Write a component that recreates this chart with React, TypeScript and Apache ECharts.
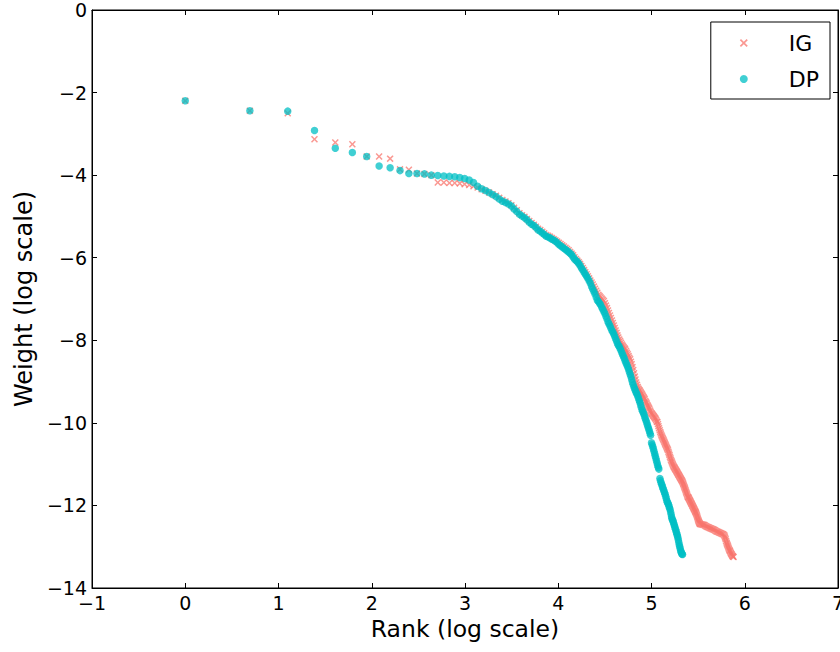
import React, { useEffect, useRef } from "react";
import * as echarts from "echarts";

// x = log(rank), y = log(weight)
const igPoints: number[][] = [
  [0, -2.2], [0.693, -2.44], [1.099, -2.5], [1.386, -3.13], [1.609, -3.21], [1.792, -3.25], [1.946, -3.55],
  [2.079, -3.55], [2.197, -3.6], [2.303, -3.86], [2.398, -3.87], [2.485, -3.96], [2.565, -3.97], [2.639, -4.0],
  [2.708, -4.18], [2.773, -4.18], [2.833, -4.19], [2.89, -4.19], [2.944, -4.2], [2.996, -4.22], [3.045, -4.24],
  [3.091, -4.27], [3.135, -4.3], [3.178, -4.34], [3.219, -4.38], [3.258, -4.42], [3.296, -4.46], [3.332, -4.5],
  [3.367, -4.55], [3.401, -4.6], [3.434, -4.64], [3.466, -4.68], [3.497, -4.73], [3.526, -4.79], [3.555, -4.85],
  [3.584, -4.92], [3.611, -4.97], [3.638, -5.01], [3.664, -5.06], [3.689, -5.11], [3.714, -5.16], [3.738, -5.2],
  [3.761, -5.25], [3.784, -5.3], [3.807, -5.33], [3.829, -5.37], [3.85, -5.41], [3.871, -5.45], [3.892, -5.47],
  [3.912, -5.49], [3.932, -5.52], [3.951, -5.55], [3.97, -5.58], [3.989, -5.61], [4.007, -5.64], [4.025, -5.67],
  [4.043, -5.7], [4.06, -5.73], [4.078, -5.76], [4.094, -5.79], [4.111, -5.82], [4.127, -5.86], [4.143, -5.9],
  [4.159, -5.94], [4.174, -5.99], [4.19, -6.03], [4.205, -6.07], [4.22, -6.11], [4.234, -6.15], [4.248, -6.2],
  [4.263, -6.25], [4.277, -6.3], [4.29, -6.35], [4.304, -6.4], [4.317, -6.45], [4.331, -6.5], [4.344, -6.55],
  [4.357, -6.6], [4.369, -6.65], [4.382, -6.7], [4.394, -6.75], [4.407, -6.8], [4.419, -6.85], [4.431, -6.9],
  [4.443, -6.93], [4.454, -6.96], [4.466, -6.99], [4.477, -7.02], [4.489, -7.05], [4.5, -7.1], [4.511, -7.16],
  [4.522, -7.22], [4.533, -7.28], [4.543, -7.34], [4.554, -7.4], [4.564, -7.46], [4.575, -7.52], [4.585, -7.58],
  [4.595, -7.64], [4.605, -7.7], [4.615, -7.76], [4.625, -7.82], [4.635, -7.88], [4.644, -7.93], [4.654, -7.98],
  [4.663, -8.02], [4.673, -8.06], [4.682, -8.1], [4.691, -8.13], [4.7, -8.16], [4.71, -8.19], [4.718, -8.22],
  [4.727, -8.26], [4.736, -8.3], [4.745, -8.34], [4.754, -8.38], [4.762, -8.42], [4.771, -8.46], [4.779, -8.52],
  [4.787, -8.58], [4.796, -8.65], [4.804, -8.72], [4.812, -8.8], [4.82, -8.88], [4.828, -8.95], [4.836, -9.02],
  [4.844, -9.08], [4.852, -9.13], [4.86, -9.17], [4.868, -9.2], [4.875, -9.22], [4.883, -9.25], [4.89, -9.28],
  [4.898, -9.31], [4.905, -9.34], [4.913, -9.37], [4.92, -9.4], [4.927, -9.43], [4.934, -9.47], [4.942, -9.5],
  [4.949, -9.53], [4.956, -9.57], [4.963, -9.6], [4.97, -9.63], [4.977, -9.66], [4.984, -9.7], [4.99, -9.73],
  [4.997, -9.76], [5.004, -9.78], [5.011, -9.8], [5.017, -9.82], [5.024, -9.84], [5.03, -9.86], [5.037, -9.88],
  [5.043, -9.9], [5.05, -9.93], [5.056, -9.97], [5.063, -9.98], [5.069, -10.03], [5.075, -10.08], [5.081, -10.13],
  [5.088, -10.18], [5.094, -10.22], [5.1, -10.26], [5.106, -10.3], [5.112, -10.33], [5.118, -10.36], [5.124, -10.39],
  [5.13, -10.42], [5.136, -10.45], [5.142, -10.48], [5.147, -10.51], [5.153, -10.54], [5.159, -10.57], [5.165, -10.6],
  [5.17, -10.63], [5.176, -10.66], [5.182, -10.7], [5.187, -10.74], [5.193, -10.78], [5.198, -10.82], [5.204, -10.86],
  [5.209, -10.9], [5.215, -10.93], [5.22, -10.96], [5.226, -10.99], [5.231, -11.02], [5.236, -11.05], [5.242, -11.07],
  [5.247, -11.09], [5.252, -11.11], [5.257, -11.13], [5.263, -11.15], [5.268, -11.17], [5.273, -11.19], [5.278, -11.21],
  [5.283, -11.23], [5.288, -11.25], [5.293, -11.27], [5.298, -11.29], [5.303, -11.31], [5.308, -11.33], [5.313, -11.35],
  [5.318, -11.37], [5.323, -11.39], [5.328, -11.41], [5.333, -11.43], [5.338, -11.46], [5.342, -11.49], [5.347, -11.52],
  [5.352, -11.55], [5.357, -11.58], [5.361, -11.61], [5.366, -11.64], [5.371, -11.67], [5.375, -11.7], [5.38, -11.73],
  [5.384, -11.76], [5.389, -11.79], [5.394, -11.8], [5.398, -11.82], [5.403, -11.84], [5.407, -11.86], [5.412, -11.88],
  [5.416, -11.9], [5.42, -11.92], [5.425, -11.94], [5.429, -11.96], [5.434, -11.98], [5.438, -12.0], [5.442, -12.02],
  [5.447, -12.04], [5.451, -12.06], [5.455, -12.08], [5.46, -12.1], [5.464, -12.12], [5.468, -12.14], [5.472, -12.16],
  [5.476, -12.18], [5.48, -12.2], [5.485, -12.23], [5.489, -12.26], [5.493, -12.29], [5.497, -12.32], [5.501, -12.35],
  [5.505, -12.38], [5.509, -12.4], [5.513, -12.42], [5.517, -12.44], [5.521, -12.45], [5.53, -12.455], [5.54, -12.46],
  [5.55, -12.465], [5.56, -12.47], [5.57, -12.48], [5.58, -12.5], [5.59, -12.51], [5.6, -12.52], [5.61, -12.53],
  [5.62, -12.54], [5.63, -12.55], [5.64, -12.56], [5.65, -12.57], [5.66, -12.58], [5.67, -12.59], [5.68, -12.6],
  [5.69, -12.62], [5.7, -12.63], [5.71, -12.64], [5.72, -12.65], [5.73, -12.66], [5.74, -12.67], [5.75, -12.68],
  [5.76, -12.69], [5.77, -12.7], [5.78, -12.72], [5.785, -12.75], [5.79, -12.78], [5.795, -12.82], [5.8, -12.86],
  [5.805, -12.9], [5.81, -12.93], [5.815, -12.96], [5.82, -12.99], [5.825, -13.02], [5.83, -13.05], [5.835, -13.08],
  [5.84, -13.1], [5.845, -13.12], [5.85, -13.15], [5.855, -13.17], [5.86, -13.19], [5.865, -13.21], [5.87, -13.23],
  [5.875, -13.24], [5.88, -13.25],
];

const dpPoints: number[][] = [
  [0, -2.2], [0.693, -2.44], [1.099, -2.45], [1.386, -2.92], [1.609, -3.35], [1.792, -3.45], [1.946, -3.55],
  [2.079, -3.78], [2.197, -3.82], [2.303, -3.89], [2.398, -3.96], [2.485, -3.96], [2.565, -3.97], [2.639, -4.0],
  [2.708, -4.01], [2.773, -4.02], [2.833, -4.03], [2.89, -4.04], [2.944, -4.06], [2.996, -4.08], [3.045, -4.12],
  [3.091, -4.18], [3.135, -4.27], [3.178, -4.33], [3.219, -4.37], [3.258, -4.42], [3.296, -4.47], [3.332, -4.52],
  [3.367, -4.58], [3.401, -4.63], [3.434, -4.66], [3.466, -4.7], [3.497, -4.75], [3.526, -4.82], [3.555, -4.88],
  [3.584, -4.95], [3.611, -4.99], [3.638, -5.03], [3.664, -5.08], [3.689, -5.14], [3.714, -5.19], [3.738, -5.22],
  [3.761, -5.27], [3.784, -5.33], [3.807, -5.36], [3.829, -5.4], [3.85, -5.44], [3.871, -5.48], [3.892, -5.5],
  [3.912, -5.52], [3.932, -5.55], [3.951, -5.57], [3.97, -5.6], [3.989, -5.64], [4.007, -5.68], [4.025, -5.71],
  [4.043, -5.74], [4.06, -5.77], [4.078, -5.8], [4.094, -5.83], [4.111, -5.86], [4.127, -5.89], [4.143, -5.93],
  [4.159, -5.98], [4.174, -6.03], [4.19, -6.07], [4.205, -6.1], [4.22, -6.14], [4.234, -6.19], [4.248, -6.25],
  [4.263, -6.3], [4.277, -6.35], [4.29, -6.4], [4.304, -6.45], [4.317, -6.5], [4.331, -6.56], [4.344, -6.62],
  [4.357, -6.7], [4.369, -6.76], [4.382, -6.82], [4.394, -6.88], [4.407, -6.96], [4.419, -7.03], [4.431, -7.06],
  [4.443, -7.1], [4.454, -7.14], [4.466, -7.2], [4.477, -7.25], [4.489, -7.3], [4.5, -7.35], [4.511, -7.42],
  [4.522, -7.48], [4.533, -7.55], [4.543, -7.6], [4.554, -7.65], [4.564, -7.7], [4.575, -7.76], [4.585, -7.8],
  [4.595, -7.85], [4.605, -7.9], [4.615, -7.96], [4.625, -8.02], [4.635, -8.08], [4.644, -8.12], [4.654, -8.15],
  [4.663, -8.2], [4.673, -8.25], [4.682, -8.3], [4.691, -8.35], [4.7, -8.4], [4.71, -8.45], [4.718, -8.5],
  [4.727, -8.55], [4.736, -8.6], [4.745, -8.65], [4.754, -8.7], [4.762, -8.76], [4.771, -8.82], [4.779, -8.88],
  [4.787, -8.95], [4.796, -9.02], [4.804, -9.08], [4.812, -9.13], [4.82, -9.18], [4.828, -9.22], [4.836, -9.27],
  [4.844, -9.3], [4.852, -9.35], [4.86, -9.4], [4.868, -9.45], [4.875, -9.5], [4.883, -9.56], [4.89, -9.62],
  [4.898, -9.68], [4.905, -9.72], [4.913, -9.76], [4.92, -9.8], [4.927, -9.85], [4.934, -9.9], [4.942, -9.95],
  [4.949, -10.0], [4.956, -10.05], [4.963, -10.1], [4.97, -10.15], [4.977, -10.2], [4.984, -10.25], [4.99, -10.3],
  [5.0, -10.48], [5.007, -10.53], [5.014, -10.58], [5.02, -10.63], [5.027, -10.69], [5.034, -10.75], [5.04, -10.8],
  [5.047, -10.86], [5.053, -10.92], [5.06, -10.97], [5.066, -11.03], [5.073, -11.08], [5.079, -11.12],
  [5.09, -11.35], [5.096, -11.4], [5.103, -11.45], [5.109, -11.49], [5.115, -11.53], [5.121, -11.57], [5.127, -11.61],
  [5.133, -11.65], [5.14, -11.69], [5.146, -11.73], [5.152, -11.78], [5.158, -11.83], [5.164, -11.88], [5.17, -11.92],
  [5.176, -11.95], [5.182, -11.98], [5.188, -12.02], [5.193, -12.06], [5.199, -12.1], [5.205, -12.16], [5.211, -12.22],
  [5.215, -12.28], [5.22, -12.32], [5.226, -12.35], [5.231, -12.38], [5.236, -12.42], [5.242, -12.46], [5.247, -12.5],
  [5.252, -12.54], [5.258, -12.58], [5.263, -12.62], [5.268, -12.66], [5.273, -12.7], [5.278, -12.74], [5.283, -12.78],
  [5.288, -12.84], [5.293, -12.9], [5.298, -12.96], [5.303, -13.0], [5.308, -13.05], [5.313, -13.1], [5.318, -13.13],
  [5.323, -13.16], [5.328, -13.18], [5.333, -13.19],
];

const seriesNames = ["IG", "DP"];
const xRange = [-1, 7];
const yRange = [-14, 0];

const crossPath =
  "path://M0,1.5L1.5,0L5,3.5L8.5,0L10,1.5L6.5,5L10,8.5L8.5,10L5,6.5L1.5,10L0,8.5L3.5,5Z";

const fmt = (v: number) => (v < 0 ? "\u2212" + Math.abs(v) : String(v));
const FONT = "DejaVu Sans";

export default function App() {
  const ref = useRef<HTMLDivElement>(null);
  useEffect(() => {
    if (!ref.current) return;
    const chart = echarts.init(ref.current, null, { renderer: "svg" });
    const axisCommon = {
      type: "value" as const,
      axisLine: { show: true, onZero: false, lineStyle: { color: "#000", width: 1 } },
      axisTick: { show: true, inside: true, length: 5, lineStyle: { color: "#000", width: 1 } },
      splitLine: { show: false },
    };
    chart.setOption({
      animation: false,
      backgroundColor: "#fff",
      textStyle: { fontFamily: FONT },
      grid: {
        left: 92,
        right: 2,
        top: 10,
        bottom: 64,
        show: true,
        borderColor: "#000",
        borderWidth: 1,
        containLabel: false,
        outerBoundsMode: "none",
      },
      xAxis: [
        {
          ...axisCommon,
          min: xRange[0],
          max: xRange[1],
          interval: 1,
          name: "Rank (log scale)",
          nameLocation: "middle",
          nameGap: 29,
          nameTextStyle: { fontSize: 23.5, color: "#000", fontFamily: FONT },
          axisLabel: { fontSize: 19, color: "#000", margin: 5, formatter: fmt, fontFamily: FONT },
        },
        {
          ...axisCommon,
          position: "top",
          min: xRange[0],
          max: xRange[1],
          interval: 1,
          axisLabel: { show: false },
        },
      ],
      yAxis: [
        {
          ...axisCommon,
          min: yRange[0],
          max: yRange[1],
          interval: 2,
          name: "Weight (log scale)",
          nameLocation: "middle",
          nameGap: 56,
          nameRotate: 90,
          nameTextStyle: { fontSize: 24, color: "#000", fontFamily: FONT },
          axisLabel: { fontSize: 19, color: "#000", margin: 5, formatter: fmt, fontFamily: FONT },
        },
        {
          ...axisCommon,
          position: "right",
          min: yRange[0],
          max: yRange[1],
          interval: 2,
          axisLabel: { show: false },
        },
      ],
      legend: {
        orient: "vertical",
        right: 10,
        top: 22,
        data: seriesNames,
        itemWidth: 40,
        itemHeight: 8,
        itemGap: 14,
        padding: [10, 11, 9, 29],
        backgroundColor: "#fff",
        borderColor: "#000",
        borderWidth: 1,
        borderRadius: 0,
        textStyle: { fontSize: 22, color: "#000", fontFamily: FONT, padding: [0, 0, 0, 20] },
      },
      series: [
        {
          type: "scatter",
          name: seriesNames[0],
          data: igPoints,
          symbol: crossPath,
          symbolSize: 7,
          itemStyle: { color: "#F8766D", opacity: 0.75 },
        },
        {
          type: "scatter",
          name: seriesNames[1],
          data: dpPoints,
          symbol: "circle",
          symbolSize: 7.5,
          itemStyle: { color: "#00BFC4", opacity: 0.75 },
        },
      ],
    });
    return () => chart.dispose();
  }, []);
  return (
    <div
      ref={ref}
      style={{ position: "absolute", left: 0, top: 0, width: 840, height: 652 }}
    />
  );
}
